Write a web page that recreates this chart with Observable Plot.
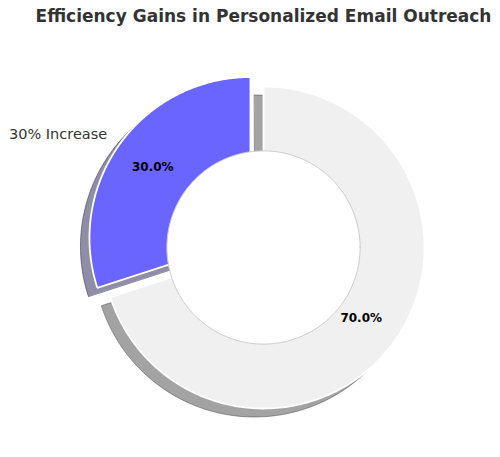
<!DOCTYPE html>
<html>
<head>
<meta charset="utf-8">
<script src="https://cdn.jsdelivr.net/npm/d3@7"></script>
<script src="https://cdn.jsdelivr.net/npm/@observablehq/plot@0.6"></script>
<style>
  html, body { margin: 0; padding: 0; background: #fff; }
  #title {
    width: 500px; height: 40px; box-sizing: border-box;
    padding-left: 27px; padding-top: 6px;
    text-align: center;
    font-family: "DejaVu Sans", sans-serif; font-weight: bold;
    font-size: 17px; color: #333333; white-space: nowrap;
  }
</style>
</head>
<body>
<div id="title">Efficiency Gains in Personalized Email Outreach</div>
<div id="chart"></div>
<script>
// ---- data ----
const labels = ["30% Increase", ""];
const values = [30, 70];
const colors = ["#6a65ff", "#f0f0f0"];
const explode = [0.1, 0];
const startAngle = 90;      // degrees, counter-clockwise
const holeRatio = 0.6;

// ---- geometry in data units (radius = 1) ----
const total = d3.sum(values);
const shade = c => { const r = d3.rgb(c); return d3.rgb(r.r * 0.3, r.g * 0.3, r.b * 0.3).formatHex(); };
const slices = [];
let a0 = startAngle;
values.forEach((v, i) => {
  const a1 = a0 + 360 * v / total;
  const mid = (a0 + a1) / 2 * Math.PI / 180;
  const ox = explode[i] * Math.cos(mid), oy = explode[i] * Math.sin(mid);
  slices.push({i, a0, a1, mid, ox, oy, label: labels[i], value: v, color: colors[i], shadow: shade(colors[i])});
  a0 = a1;
});

function wedgePoints(s) {
  const pts = [{x: s.ox, y: s.oy}];
  const n = 240;
  for (let k = 0; k <= n; k++) {
    const t = (s.a0 + (s.a1 - s.a0) * k / n) * Math.PI / 180;
    pts.push({x: s.ox + Math.cos(t), y: s.oy + Math.sin(t)});
  }
  return pts.map(p => ({...p, slice: s.i, color: s.color, shadow: s.shadow}));
}
const wedgeData = slices.flatMap(wedgePoints);

const hole = d3.range(0, 361).map(k => ({x: holeRatio * Math.cos(k * Math.PI / 180), y: holeRatio * Math.sin(k * Math.PI / 180)}));

const outerLabels = slices.filter(s => s.label).map(s => ({
  x: s.ox + 1.1 * Math.cos(s.mid), y: s.oy + 1.1 * Math.sin(s.mid), text: s.label
}));
const pctLabels = slices.map(s => ({
  x: s.ox + 0.75 * Math.cos(s.mid), y: s.oy + 0.75 * Math.sin(s.mid),
  text: (100 * s.value / total).toFixed(1) + "%"
}));

// ---- layout ----
const W = 500, H = 417, R = 161, CX = 263, CY = 207;

const chart = Plot.plot({
  width: W, height: H, margin: 0,
  x: {domain: [-CX / R, (W - CX) / R], axis: null},
  y: {domain: [-(H - CY) / R, CY / R], axis: null},
  color: {type: "identity"},
  style: {fontFamily: "DejaVu Sans, sans-serif", background: "#fff"},
  marks: [
    // shadows
    Plot.line(wedgeData, {x: "x", y: "y", z: "slice", fill: "shadow", stroke: "shadow",
      fillOpacity: 0.5, strokeOpacity: 0.5, strokeWidth: 1, curve: "linear-closed", dx: -9, dy: 8.5}),
    // wedges
    Plot.line(wedgeData, {x: "x", y: "y", z: "slice", fill: "color", stroke: "white",
      strokeWidth: 1.8, strokeLinejoin: "miter", curve: "linear-closed"}),
    // centre hole
    Plot.line(hole, {x: "x", y: "y", fill: "white", stroke: "#cccccc", strokeWidth: 1, curve: "linear-closed"}),
    // labels
    Plot.text(outerLabels, {x: "x", y: "y", text: "text", textAnchor: "end", fontSize: 14.5, fill: "#333333"}),
    Plot.text(pctLabels, {x: "x", y: "y", text: "text", fontSize: 12, fontWeight: "bold", fill: "black"})
  ]
});
document.getElementById("chart").appendChild(chart);
</script>
</body>
</html>
